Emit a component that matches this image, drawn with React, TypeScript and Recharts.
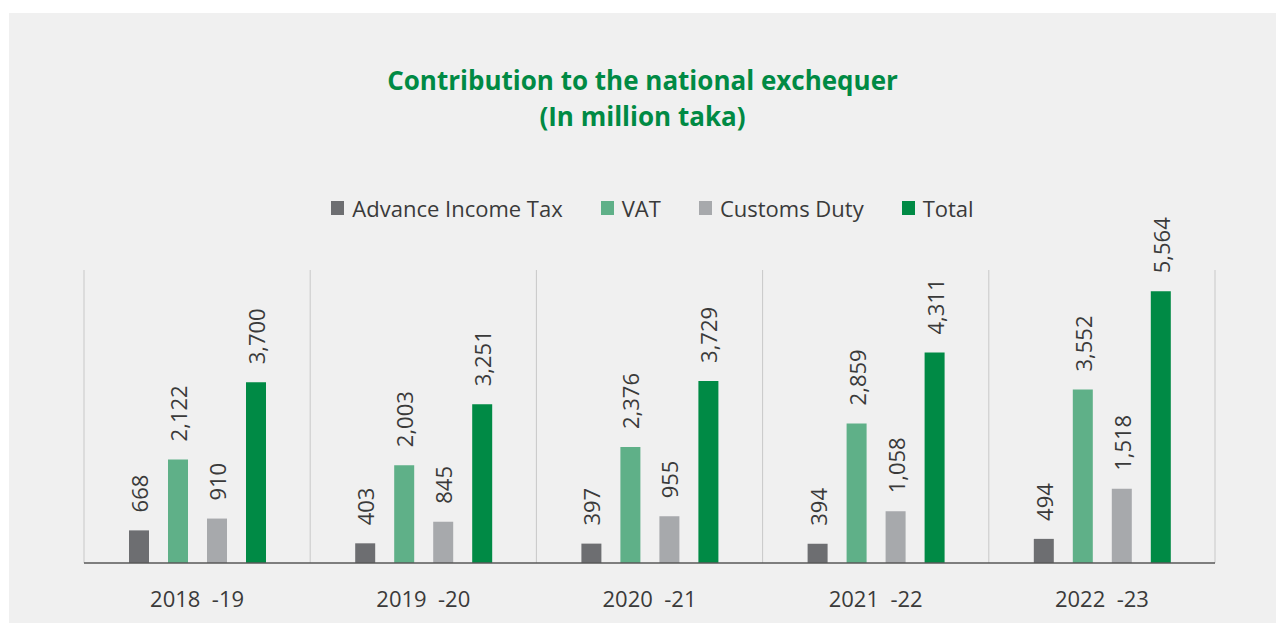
import { Bar, BarChart, CartesianGrid, LabelList, Legend, XAxis, YAxis } from 'recharts'

const CATEGORIES = ['2018-19', '2019-20', '2020-21', '2021-22', '2022-23']
const ADVANCE_INCOME_TAX = [668, 403, 397, 394, 494]
const VAT = [2122, 2003, 2376, 2859, 3552]
const CUSTOMS_DUTY = [910, 845, 955, 1058, 1518]
const TOTAL = [3700, 3251, 3729, 4311, 5564]

const SERIES = [
  { key: 'ait', name: 'Advance Income Tax', color: '#6d6e71' },
  { key: 'vat', name: 'VAT', color: '#5fb088' },
  { key: 'customs', name: 'Customs Duty', color: '#a7a9ac' },
  { key: 'total', name: 'Total', color: '#008a45' },
]

const data = CATEGORIES.map((year, i) => ({
  year,
  ait: ADVANCE_INCOME_TAX[i],
  vat: VAT[i],
  customs: CUSTOMS_DUTY[i],
  total: TOTAL[i],
}))

const FONT = '"Open Sans", "DejaVu Sans", sans-serif'
const TEXT = '#3a3a3a'

function ValueLabel(props: any) {
  const { x, y, width, value } = props
  const cx = Number(x) + Number(width) / 2
  const top = Number(y) - 18
  return (
    <text
      x={cx}
      y={top}
      transform={`rotate(-90 ${cx} ${top})`}
      textAnchor="start"
      dominantBaseline="central"
      fontSize={22}
      fontFamily={FONT}
      fill={TEXT}
    >
      {Number(value).toLocaleString('en-US')}
    </text>
  )
}

// keep the series order, not the alphabetical one
function LegendContent({ payload }: any) {
  const items = SERIES.map((s) => (payload || []).find((p: any) => p.value === s.name)).filter(Boolean)
  return (
    <div style={{ display: 'flex', justifyContent: 'center', gap: 38, fontFamily: FONT, fontSize: 22, color: TEXT }}>
      {items.map((p: any) => (
        <div key={p.value} style={{ display: 'flex', alignItems: 'center' }}>
          <span style={{ width: 13, height: 14, background: p.color, marginRight: 8, display: 'inline-block' }} />
          <span>{p.value}</span>
        </div>
      ))}
    </div>
  )
}

export default function App() {
  return (
    <div
      style={{
        position: 'absolute',
        left: 9,
        top: 13,
        width: 1267,
        height: 610,
        background: '#f0f0f0',
      }}
    >
      <div
        style={{
          position: 'absolute',
          top: 49,
          left: 0,
          width: 1267,
          textAlign: 'center',
          color: '#008a44',
          fontFamily: FONT,
          fontWeight: 700,
          fontSize: 26,
          lineHeight: '36px',
        }}
      >
        Contribution to the national exchequer
        <br />
        (In million taka)
      </div>
      <BarChart
        width={1267}
        height={610}
        data={data}
        margin={{ top: 257, right: 61, left: 75, bottom: 30 }}
        barSize={20}
        barGap={19}
      >
        <CartesianGrid
          horizontal={false}
          stroke="#c8c8c8"
          verticalCoordinatesGenerator={({ offset }: any) =>
            CATEGORIES.map((_, i) => offset.left + (i * offset.width) / CATEGORIES.length).concat(
              offset.left + offset.width,
            )
          }
        />
        <XAxis
          dataKey="year"
          tickLine={false}
          axisLine={{ stroke: '#595959', strokeWidth: 1.5 }}
          tick={{ fontSize: 22, fontFamily: FONT, fill: TEXT }}
          tickFormatter={(v: string) => v.replace('-', '\u00a0\u00a0-')}
          dy={20}
        />
        <YAxis hide domain={[0, 6000]} />
        <Legend
          layout="horizontal"
          verticalAlign="middle"
          align="center"
          wrapperStyle={{ top: 180, left: 10, width: 1267 }}
          content={LegendContent}
        />
        {SERIES.map((s) => (
          <Bar key={s.key} dataKey={s.key} name={s.name} fill={s.color} isAnimationActive={false}>
            <LabelList dataKey={s.key} content={ValueLabel} />
          </Bar>
        ))}
      </BarChart>
    </div>
  )
}
